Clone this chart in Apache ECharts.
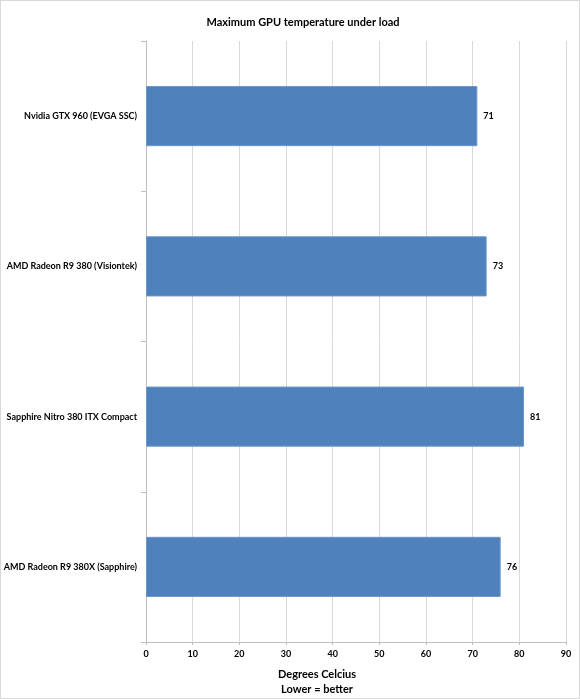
<!DOCTYPE html>
<html>
<head>
<meta charset="utf-8">
<script src="https://cdn.jsdelivr.net/npm/echarts@6/dist/echarts.min.js"></script>
<style>
  html, body { margin: 0; padding: 0; background: #fff; }
  #chart { width: 578px; height: 697px; border: 1px solid #d9d9d9; }
</style>
</head>
<body>
<div id="chart"></div>
<script>
// card names, top to bottom
const cards = [
  'Nvidia GTX 960 (EVGA SSC)',
  'AMD Radeon R9 380 (Visiontek)',
  'Sapphire Nitro 380 ITX Compact',
  'AMD Radeon R9 380X (Sapphire)'
];
// max temperature in degrees C
const temps = [71, 73, 81, 76];
const xTicks = { min: 0, max: 90, step: 10 };

const font = 'Lato, "Open Sans", sans-serif';
const chart = echarts.init(document.getElementById('chart'));

let option = {
  backgroundColor: '#ffffff',
  animation: false,
  textStyle: { fontFamily: font },
  title: [{
    text: 'Maximum GPU temperature under load',
    left: 297,
    top: 11,
    textAlign: 'center',
    textStyle: { fontSize: 11, fontWeight: 'bold', color: '#000', fontFamily: font }
  }, {
    text: 'Degrees Celcius\nLower = better',
    left: 311,
    top: 661,
    textAlign: 'center',
    textStyle: { fontSize: 11, fontWeight: 'bold', color: '#000', lineHeight: 15, fontFamily: font }
  }],
  grid: {
    left: 145,
    right: 13,
    top: 40,
    bottom: 56,
    outerBoundsMode: 'none',
    containLabel: false
  },
  xAxis: {
    type: 'value',
    min: xTicks.min,
    max: xTicks.max,
    interval: xTicks.step,
    axisLine: { show: true, lineStyle: { color: '#bfbfbf' } },
    axisTick: { show: true, length: 3, lineStyle: { color: '#bfbfbf' } },
    axisLabel: { color: '#000', fontSize: 9, fontWeight: 'bold', margin: 8 },
    splitLine: { show: true, lineStyle: { color: '#d9d9d9' } }
  },
  yAxis: {
    type: 'category',
    inverse: true,
    data: cards,
    axisLine: { show: true, lineStyle: { color: '#bfbfbf' } },
    axisTick: { show: true, length: 5, lineStyle: { color: '#bfbfbf' } },
    axisLabel: { color: '#000', fontSize: 9, fontWeight: 'bold', margin: 9 }
  },
  series: [{
    type: 'bar',
    data: temps,
    barCategoryGap: '60%',
    itemStyle: { color: '#4f81bd', borderColor: '#6a96cc', borderWidth: 1 },
    label: {
      show: true,
      position: 'right',
      distance: 6,
      color: '#000',
      fontSize: 9,
      fontWeight: 'bold'
    }
  }]
};

chart.setOption(option);
</script>
</body>
</html>
